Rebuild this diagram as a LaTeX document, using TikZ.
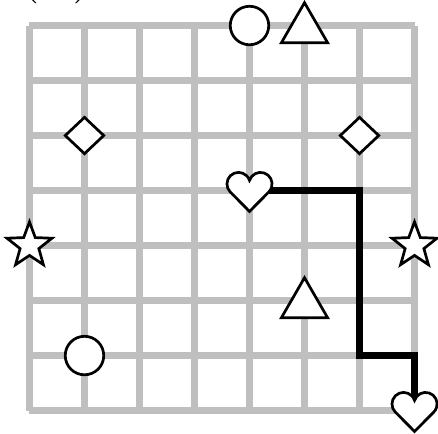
\documentclass[tikz,border=0pt]{standalone}
\usepackage{tikz}
\usetikzlibrary{shapes.geometric}

\begin{document}
\begin{tikzpicture}[x=1cm,y=1cm,
 gridline/.style={draw=gray!50,line width=3.6pt},
 route/.style={draw=black,line width=3.5pt},
 token/.style={draw,line width=1.4pt,fill=white,inner sep=0pt},
 ring/.style={token,circle,minimum size=0.7cm},
 tri/.style={token,regular polygon,regular polygon sides=3,minimum size=0.97cm,yshift=-0.07cm},
 gem/.style={token,diamond,minimum width=0.72cm,minimum height=0.68cm},
 starry/.style={token,star,star points=5,star point ratio=2.4,minimum size=0.86cm},
 heart/.pic={\draw[line width=1.4pt,fill=white] (0,-0.38) -- (-0.349,-0.028)
   arc[start angle=224.75,end angle=17.7,radius=0.21]
   arc[start angle=162.3,end angle=-44.75,radius=0.21] -- cycle;}]
\useasboundingbox (-0.536,0.464) rectangle (7.427,-7.409);
\node[font=\fontsize{36}{40}\selectfont,anchor=base] (lbl) at (0.49,0.71) {(a)};
\draw[gridline] (0,0) grid (7,-7);
\coordinate (start) at (4,-3);
\coordinate (bend) at (6,-6);
\coordinate (goal) at (7,-7);
\draw[route] (start) -| (bend) -| (goal);
\node[ring] (c1) at (4,0) {};
\node[tri] (t1) at (5,0) {};
\node[gem] (d1) at (1,-2) {};
\node[gem] (d2) at (6,-2) {};
\node[starry] (s1) at (0,-4) {};
\node[starry] (s2) at (7,-4) {};
\node[tri] (t2) at (5,-5) {};
\node[ring] (c2) at (1,-6) {};
\pic at (start) {heart};
\pic at (goal) {heart};
\end{tikzpicture}
\end{document}
